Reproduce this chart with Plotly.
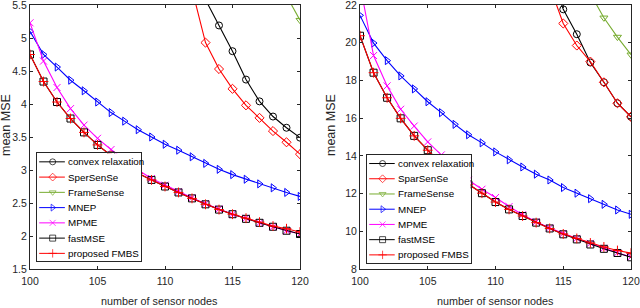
import plotly.graph_objects as go

nodes = list(range(100, 121))

names_left = ["convex relaxation", "SperSenSe", "FrameSense", "MNEP", "MPME", "fastMSE", "proposed FMBS"]
names_right = ["convex relaxation", "SparSenSe", "FrameSense", "MNEP", "MPME", "fastMSE", "proposed FMBS"]

N = None
# left panel
convex_L = [N]*13 + [5.58, 5.19, 4.80, 4.37, 4.04, 3.81, 3.64, 3.49]
sparse_L = [N]*12 + [5.74, 4.93, 4.53, 4.23, 3.98, 3.79, 3.59, 3.42, 3.24]
frame_L = [N]*19 + [5.64, 5.27]
mnep_L = [5.10, 4.75, 4.56, 4.36, 4.20, 4.03, 3.87, 3.74, 3.61, 3.50, 3.39, 3.30, 3.20, 3.10, 3.01, 2.93, 2.86, 2.79, 2.73, 2.66, 2.60]
mpme_L = [5.23, 4.65, 4.25, 3.93, 3.68, 3.48, 3.31, 3.15, 3.00, 2.87, 2.77, 2.67, 2.58, 2.49, 2.41, 2.33, 2.27, 2.20, 2.14, 2.08, 2.03]
fast_L = [4.75, 4.34, 4.03, 3.78, 3.57, 3.38, 3.22, 3.08, 2.95, 2.85, 2.75, 2.66, 2.57, 2.48, 2.40, 2.33, 2.26, 2.20, 2.14, 2.08, 2.03]
fmbs_L = [4.75, 4.34, 4.03, 3.78, 3.57, 3.38, 3.22, 3.08, 2.95, 2.85, 2.75, 2.66, 2.57, 2.48, 2.40, 2.33, 2.27, 2.21, 2.15, 2.11, 2.06]

# right panel
convex_R = [N]*14 + [23.8, 21.77, 20.45, 18.95, 17.90, 16.79, 16.07]
sparse_R = [N]*14 + [23.0, 21.02, 19.85, 19.00, 17.90, 16.79, 16.07]
frame_R = [N]*17 + [22.6, 21.32, 20.30, 19.36]
mnep_R = [21.45, 19.98, 19.05, 18.24, 17.55, 16.87, 16.29, 15.67, 15.12, 14.69, 14.21, 13.79, 13.41, 13.03, 12.72, 12.32, 12.02, 11.73, 11.43, 11.13, 10.90]
mpme_R = [23.1, 19.32, 17.71, 16.47, 15.58, 14.74, 14.05, 13.35, 12.72, 12.23, 11.79, 11.31, 10.88, 10.50, 10.18, 9.88, 9.62, 9.36, 9.10, 8.86, 8.64]
fast_R = [20.37, 18.41, 17.08, 15.99, 15.06, 14.30, 13.60, 13.00, 12.49, 12.02, 11.55, 11.16, 10.81, 10.46, 10.15, 9.84, 9.57, 9.30, 9.07, 8.85, 8.62]
fmbs_R = [20.37, 18.41, 17.08, 15.99, 15.06, 14.30, 13.60, 13.00, 12.49, 12.02, 11.55, 11.16, 10.81, 10.46, 10.15, 9.86, 9.62, 9.38, 9.17, 8.98, 8.84]

left_series = [convex_L, sparse_L, frame_L, mnep_L, mpme_L, fast_L, fmbs_L]
right_series = [convex_R, sparse_R, frame_R, mnep_R, mpme_R, fast_R, fmbs_R]

colors = ["#000000", "#FF0000", "#77AC30", "#0000FF", "#FF00FF", "#000000", "#FF0000"]
symbols = ["circle-open", "diamond-open", "triangle-down-open", "triangle-right-open",
           "x-thin-open", "square-open", "cross-thin-open"]

x_ticks = [100, 105, 110, 115, 120]
yticks_L = [1.5, 2, 2.5, 3, 3.5, 4, 4.5, 5, 5.5]
yticks_R = [8, 10, 12, 14, 16, 18, 20, 22]

x_title = "number of sensor nodes"
y_title = "mean MSE"

FONT = "Liberation Sans, Arial, Helvetica, sans-serif"
AX = "#262626"

fig = go.Figure()

def add_panel(series, names, xa, ya):
    for vals, name, c, s in zip(series, names, colors, symbols):
        fig.add_trace(go.Scatter(
            x=nodes, y=vals, name=name, mode="lines+markers",
            line=dict(color=c, width=1.1),
            marker=dict(symbol=s, size=7, color=c, line=dict(color=c, width=1)),
            xaxis=xa, yaxis=ya, showlegend=False, connectgaps=False))

def add_legend(names, xa, ya):
    for i, (name, c, s) in enumerate(zip(names, colors, symbols)):
        fig.add_trace(go.Scatter(
            x=[0.024, 0.153, 0.27], y=[i, i, i], mode="lines+markers",
            line=dict(color=c, width=1),
            marker=dict(symbol=s, size=[0, 6, 0], color=c, line=dict(color=c, width=1)),
            xaxis=xa, yaxis=ya, showlegend=False, hoverinfo="skip"))
        fig.add_annotation(x=0.28, y=i, xref=xa, yref=ya, text=name, showarrow=False,
                           xanchor="left", yanchor="middle",
                           font=dict(family=FONT, size=9.8, color="#000000"))

add_panel(left_series, names_left, "x", "y")
add_panel(right_series, names_right, "x2", "y2")
add_legend(names_left, "x3", "y3")
add_legend(names_right, "x4", "y4")

W = 640.0
H_TOP, H_BOT = 5.0, 269.0
def py(p):
    return (H_BOT - p) / (H_BOT - H_TOP)

# axis titles as annotations (placed as in the reference)
for cx, cy in [(159.5, 301), (495.5, 301)]:
    fig.add_annotation(x=cx / W, y=py(cy), xref="paper", yref="paper", text=x_title,
                       showarrow=False, xanchor="center", yanchor="middle",
                       font=dict(family=FONT, size=10.8, color=AX))
for cx, cy in [(6, 125), (331, 125)]:
    fig.add_annotation(x=cx / W, y=py(cy), xref="paper", yref="paper", text=y_title,
                       showarrow=False, xanchor="center", yanchor="middle", textangle=-90,
                       font=dict(family=FONT, size=12.5, color=AX))

common_x = dict(range=[100, 120], tickvals=x_ticks, ticks="inside", ticklen=3, tickcolor=AX,
                showline=True, linecolor=AX, linewidth=1, mirror="ticks", showgrid=False,
                zeroline=False, tickfont=dict(family=FONT, size=10.5, color=AX),
                automargin=False, ticklabeloverflow="allow", ticklabelstandoff=2)
common_y = dict(ticks="inside", ticklen=3, tickcolor=AX, showline=True, linecolor=AX, linewidth=1,
                mirror="ticks", showgrid=False, zeroline=False,
                tickfont=dict(family=FONT, size=10.5, color=AX),
                automargin=False, ticklabeloverflow="allow")
leg_ax = dict(range=[0, 1], showline=True, mirror=True, linecolor=AX, linewidth=0.8,
              showticklabels=False, ticks="", showgrid=False, zeroline=False, fixedrange=True,
              automargin=False)
leg_ay = dict(range=[6.5, -0.56], showline=True, mirror=True, linecolor=AX, linewidth=0.8,
              showticklabels=False, ticks="", showgrid=False, zeroline=False, fixedrange=True,
              automargin=False)

fig.update_layout(
    width=640, height=308,
    margin=dict(l=0, r=0, t=5, b=39, autoexpand=False),
    paper_bgcolor="white", plot_bgcolor="white",
    showlegend=False,
    xaxis=dict(domain=[30 / W, 300 / W], anchor="y", **common_x),
    yaxis=dict(domain=[0, 1], anchor="x", range=[1.5, 5.5], tickvals=yticks_L, **common_y),
    xaxis2=dict(domain=[360 / W, 631 / W], anchor="y2", **common_x),
    yaxis2=dict(domain=[0, 1], anchor="x2", range=[8, 22], tickvals=yticks_R, **common_y),
    xaxis3=dict(domain=[36.7 / W, 141 / W], anchor="y3", **leg_ax),
    yaxis3=dict(domain=[py(261), py(153.3)], anchor="x3", **leg_ay),
    xaxis4=dict(domain=[366.7 / W, 470.5 / W], anchor="y4", **leg_ax),
    yaxis4=dict(domain=[py(262.5), py(155)], anchor="x4", **leg_ay),
)

fig.write_html("out.html", config={"displayModeBar": False},
               post_script="document.body.style.margin='0';document.body.style.overflow='hidden';")
